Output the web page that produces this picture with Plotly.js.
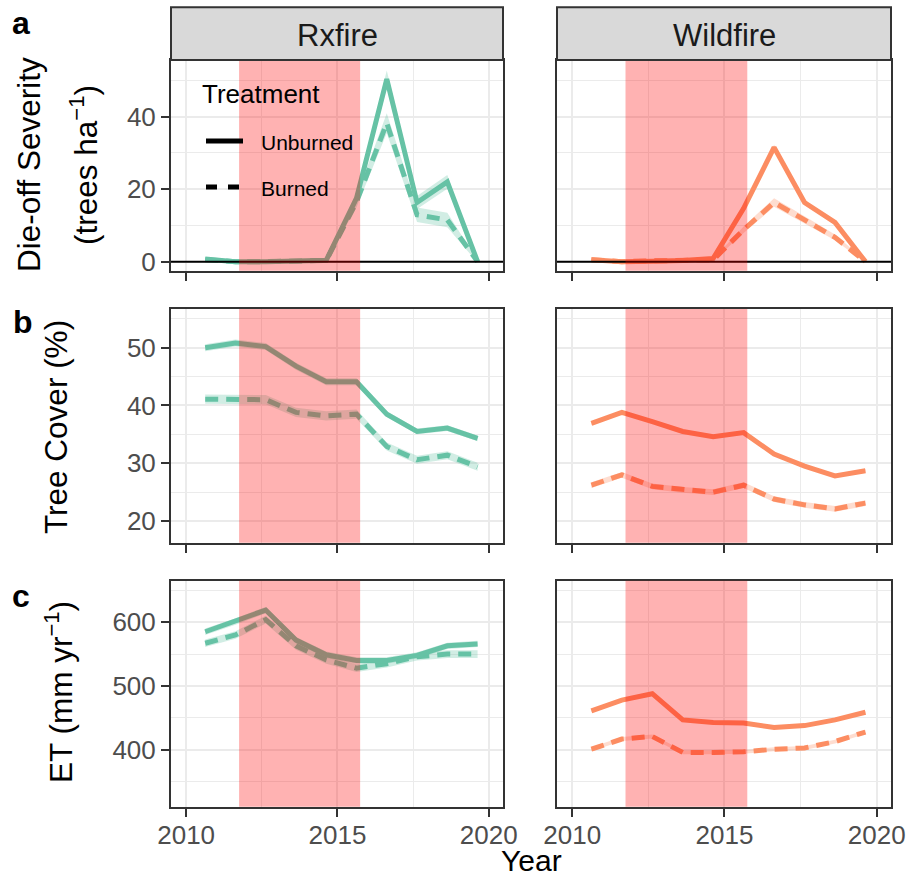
<!DOCTYPE html>
<html>
<head>
<meta charset="utf-8">
<script src="https://cdn.plot.ly/plotly-3.0.1.min.js"></script>
<style>html,body{margin:0;padding:0;background:#fff;}</style>
</head>
<body>
<div id="chart" style="width:906px;height:880px;"></div>
<script>
// Annual observation times (mid-season of each year)
const years = [2010.63, 2011.63, 2012.63, 2013.63, 2014.63, 2015.63, 2016.63, 2017.63, 2018.63, 2019.63];
// Drought window shaded in every panel
const droughtPeriod = [2011.75, 2015.75];

const panelNames = ['Rxfire', 'Wildfire'];
const treatments = ['Unburned', 'Burned'];

// a: die-off severity (trees ha-1)
const dieoffRxUnburned   = [0.7, 0.0, 0.0, 0.1, 0.4, 17.5, 50.3, 16.3, 22.0, 0.0];
const dieoffRxUnburnedCI = [0.3, 0.2, 0.2, 0.2, 0.3, 1.5, 2.4, 1.8, 1.9, 0.3];
const dieoffRxBurned     = [0.5, 0.0, 0.0, 0.1, 0.3, 16.5, 38.2, 12.9, 11.5, 0.0];
const dieoffRxBurnedCI   = [0.3, 0.2, 0.2, 0.2, 0.3, 1.5, 2.7, 2.0, 2.0, 0.3];
const dieoffWfUnburned   = [0.5, 0.0, 0.1, 0.3, 0.9, 14.7, 31.5, 16.3, 10.8, 0.0];
const dieoffWfUnburnedCI = [0.2, 0.2, 0.2, 0.2, 0.2, 0.5, 0.7, 0.5, 0.4, 0.2];
const dieoffWfBurned     = [0.5, 0.0, 0.2, 0.4, 0.5, 8.8, 16.3, 11.5, 6.7, 0.0];
const dieoffWfBurnedCI   = [0.3, 0.3, 0.3, 0.3, 0.3, 0.9, 1.2, 1.0, 0.8, 0.3];

// b: tree cover (%)
const coverRxUnburned   = [50.0, 50.8, 50.2, 46.8, 44.1, 44.1, 38.5, 35.5, 36.1, 34.3];
const coverRxUnburnedCI = [0.6, 0.6, 0.6, 0.6, 0.6, 0.6, 0.5, 0.5, 0.5, 0.5];
const coverRxBurned     = [41.1, 41.1, 41.0, 38.8, 38.2, 38.5, 32.9, 30.6, 31.4, 29.4];
const coverRxBurnedCI   = [0.8, 0.8, 0.8, 0.8, 0.8, 0.8, 0.7, 0.7, 0.7, 0.7];
const coverWfUnburned   = [36.9, 38.8, 37.2, 35.5, 34.6, 35.3, 31.6, 29.5, 27.8, 28.7];
const coverWfUnburnedCI = [0.3, 0.3, 0.3, 0.3, 0.3, 0.3, 0.3, 0.3, 0.3, 0.3];
const coverWfBurned     = [26.2, 28.0, 26.0, 25.4, 25.0, 26.2, 23.8, 22.8, 22.1, 23.1];
const coverWfBurnedCI   = [0.5, 0.5, 0.5, 0.5, 0.5, 0.5, 0.5, 0.5, 0.5, 0.5];

// c: evapotranspiration (mm yr-1)
const etRxUnburned   = [585, 601, 619, 572, 549, 540, 540, 548, 563, 566];
const etRxUnburnedCI = [5, 5, 5, 5, 5, 5, 5, 5, 5, 5];
const etRxBurned     = [567, 580, 604, 563, 541, 528, 535, 546, 550, 550];
const etRxBurnedCI   = [6, 6, 6, 6, 6, 6, 6, 6, 6, 6];
const etWfUnburned   = [461, 478, 488, 447, 443, 442, 435, 438, 447, 459];
const etWfUnburnedCI = [2, 2, 2, 2, 2, 2, 2, 2, 2, 2];
const etWfBurned     = [401, 417, 421, 396, 396, 397, 401, 403, 413, 428];
const etWfBurnedCI   = [3, 3, 3, 3, 3, 3, 3, 3, 3, 3];

const yTicksA = [0, 20, 40];
const yTicksB = [20, 30, 40, 50];
const yTicksC = [400, 500, 600];
const xTicks = [2010, 2015, 2020];

// ---- styling ----
const W = 906, H = 880;
const FONT = 'Liberation Sans, Arial, sans-serif';
const colRx = '#66C2A5', colWf = '#FC8D62';
const fillRx = 'rgba(102,194,165,0.3)', fillWf = 'rgba(252,141,98,0.3)';
const DASH = '13px,8px';
const LW = 5;

const px = v => v / W;          // horizontal pixel -> paper
const py = v => 1 - v / H;      // vertical pixel (from top) -> paper

const xDomL = [px(171), px(503)];
const xDomR = [px(557), px(891)];
const yDomA = [py(270.7), py(60)];
const yDomB = [py(542.7), py(309)];
const yDomC = [py(806.7), py(580.7)];
const xRange = [2009.5, 2020.47];

const traces = [];
function addSeries(n, vals, ci, color, fill, dash) {
  const xa = 'x' + (n === 1 ? '' : n), ya = 'y' + (n === 1 ? '' : n);
  const lo = vals.map((v, i) => v - ci[i]);
  const hi = vals.map((v, i) => v + ci[i]);
  traces.push({x: years, y: lo, xaxis: xa, yaxis: ya, mode: 'lines',
    line: {width: 0, color: fill}, showlegend: false, hoverinfo: 'skip'});
  traces.push({x: years, y: hi, xaxis: xa, yaxis: ya, mode: 'lines', fill: 'tonexty',
    fillcolor: fill, line: {width: 0, color: fill}, showlegend: false, hoverinfo: 'skip'});
  traces.push({x: years, y: vals, xaxis: xa, yaxis: ya, mode: 'lines',
    line: {width: LW, color: color, dash: dash}, showlegend: false});
}

addSeries(1, dieoffRxBurned, dieoffRxBurnedCI, colRx, fillRx, DASH);
addSeries(1, dieoffRxUnburned, dieoffRxUnburnedCI, colRx, fillRx, 'solid');
addSeries(2, dieoffWfBurned, dieoffWfBurnedCI, colWf, fillWf, DASH);
addSeries(2, dieoffWfUnburned, dieoffWfUnburnedCI, colWf, fillWf, 'solid');
addSeries(3, coverRxBurned, coverRxBurnedCI, colRx, fillRx, DASH);
addSeries(3, coverRxUnburned, coverRxUnburnedCI, colRx, fillRx, 'solid');
addSeries(4, coverWfBurned, coverWfBurnedCI, colWf, fillWf, DASH);
addSeries(4, coverWfUnburned, coverWfUnburnedCI, colWf, fillWf, 'solid');
addSeries(5, etRxBurned, etRxBurnedCI, colRx, fillRx, DASH);
addSeries(5, etRxUnburned, etRxUnburnedCI, colRx, fillRx, 'solid');
addSeries(6, etWfBurned, etWfBurnedCI, colWf, fillWf, DASH);
addSeries(6, etWfUnburned, etWfUnburnedCI, colWf, fillWf, 'solid');

const grid = '#EBEBEB', border = '#333333';
const tickFont = {family: FONT, size: 26, color: '#4D4D4D'};
function xAxis(dom, anchor, labels) {
  return {domain: dom, anchor: anchor, range: xRange, tickmode: 'array', tickvals: xTicks,
    ticktext: xTicks.map(String), showticklabels: labels, ticklabelstandoff: -4,
    ticks: 'outside', ticklen: 8, tickwidth: 2, tickcolor: border, tickfont: tickFont,
    showgrid: true, gridcolor: grid, gridwidth: 2,
    minor: {tickmode: 'array', tickvals: [2012.5, 2017.5], showgrid: true, gridcolor: grid, gridwidth: 1, ticks: ''},
    showline: true, mirror: true, linecolor: border, linewidth: 2, zeroline: false, fixedrange: true};
}
function yAxis(dom, anchor, range, ticks, minorTicks, labels) {
  return {domain: dom, anchor: anchor, range: range, tickmode: 'array', tickvals: ticks,
    ticktext: ticks.map(String), showticklabels: labels,
    ticks: labels ? 'outside' : '', ticklen: 8, tickwidth: 2, tickcolor: border, tickfont: tickFont,
    showgrid: true, gridcolor: grid, gridwidth: 2,
    minor: {tickmode: 'array', tickvals: minorTicks, showgrid: true, gridcolor: grid, gridwidth: 1, ticks: ''},
    showline: true, mirror: true, linecolor: border, linewidth: 2, zeroline: false, fixedrange: true};
}

const rangeA = [-2.5, 55.6], rangeB = [16.25, 56.7], rangeC = [311, 665];
const minorA = [10, 30, 50], minorB = [25, 35, 45, 55], minorC = [350, 450, 550, 650];

const shapes = [];
// zero reference line in the die-off panels
['', '2'].forEach(s => shapes.push({type: 'line', xref: 'x' + s + ' domain', yref: 'y' + s,
  x0: 0, x1: 1, y0: 0, y1: 0, line: {color: '#000', width: 2}, layer: 'above'}));
// drought period band on every panel
['', '2', '3', '4', '5', '6'].forEach(s => shapes.push({type: 'rect', xref: 'x' + s, yref: 'y' + s + ' domain',
  x0: droughtPeriod[0], x1: droughtPeriod[1], y0: 0, y1: 1,
  fillcolor: 'rgba(255,0,0,0.3)', line: {width: 0}, layer: 'above'}));
// facet strips
['', '2'].forEach(s => shapes.push({type: 'rect', xref: 'x' + s + ' domain', yref: 'paper',
  x0: 0, x1: 1, y0: yDomA[1], y1: py(7.3), fillcolor: '#D9D9D9',
  line: {color: border, width: 2}, layer: 'above'}));
// treatment legend keys (solid = unburned, dashed = burned)
treatments.forEach((t, i) => shapes.push({type: 'line', xref: 'paper', yref: 'paper',
  x0: px(206), x1: px(243), y0: py(141 + 46 * i), y1: py(141 + 46 * i),
  line: {color: '#000', width: 5, dash: i === 0 ? 'solid' : '11px,11px'}, layer: 'above'}));

const annotations = [];
panelNames.forEach((name, i) => annotations.push({text: name, xref: (i ? 'x2' : 'x') + ' domain', yref: 'paper',
  x: 0.5, y: py(35), xanchor: 'center', yanchor: 'middle', showarrow: false,
  font: {family: FONT, size: 31, color: '#1A1A1A'}}));
function label(text, x, y, size, angle, bold, anchor) {
  annotations.push({text: bold ? '<b>' + text + '</b>' : text, xref: 'paper', yref: 'paper',
    x: px(x), y: py(y), xanchor: anchor || 'center', yanchor: 'middle', showarrow: false, textangle: angle,
    borderpad: 0, font: {family: FONT, size: size, color: '#000'}});
}
label('a', 21, 23, 32, 0, true);
label('b', 23, 322, 32, 0, true);
label('c', 21, 596, 32, 0, true);
label('Die-off Severity', 29, 165, 31.5, -90);
label('(trees ha<sup>\u22121</sup>)', 84, 165, 31.5, -90);
label('Tree Cover (%)', 56, 427, 31.5, -90);
label('ET (mm yr<sup>\u22121</sup>)', 59, 692, 31.5, -90);
label('Year', 531, 860, 30, 0);
// legend title and entries
label('Treatment', 201, 94, 26, 0, false, 'left');
treatments.forEach((t, i) => label(t, 260, 142 + 46 * i, 21, 0, false, 'left'));

const layout = {
  width: W, height: H, margin: {l: 0, r: 0, t: 0, b: 0},
  paper_bgcolor: '#fff', plot_bgcolor: '#fff',
  font: {family: FONT},
  xaxis: xAxis(xDomL, 'y', false), yaxis: yAxis(yDomA, 'x', rangeA, yTicksA, minorA, true),
  xaxis2: xAxis(xDomR, 'y2', false), yaxis2: yAxis(yDomA, 'x2', rangeA, yTicksA, minorA, false),
  xaxis3: xAxis(xDomL, 'y3', false), yaxis3: yAxis(yDomB, 'x3', rangeB, yTicksB, minorB, true),
  xaxis4: xAxis(xDomR, 'y4', false), yaxis4: yAxis(yDomB, 'x4', rangeB, yTicksB, minorB, false),
  xaxis5: xAxis(xDomL, 'y5', true), yaxis5: yAxis(yDomC, 'x5', rangeC, yTicksC, minorC, true),
  xaxis6: xAxis(xDomR, 'y6', true), yaxis6: yAxis(yDomC, 'x6', rangeC, yTicksC, minorC, false),
  showlegend: false,
  shapes: shapes, annotations: annotations
};

Plotly.newPlot('chart', traces, layout, {staticPlot: true, displayModeBar: false});
</script>
</body>
</html>
